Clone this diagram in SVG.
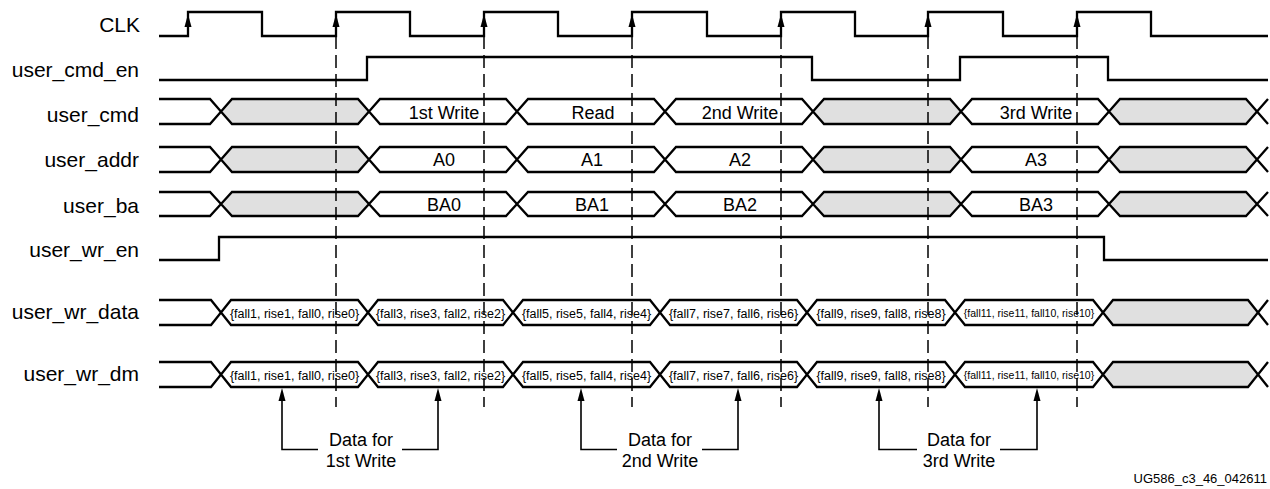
<svg xmlns="http://www.w3.org/2000/svg" xmlns:xlink="http://www.w3.org/1999/xlink" width="1270" height="489" viewBox="0 0 1270 489">
<style>
.w{fill:none;stroke:#000;stroke-width:2.3;stroke-linejoin:miter}
.g{fill:#e0e0e0;stroke:#000;stroke-width:2.3}
.o{fill:#fff;stroke:#000;stroke-width:2.3}
.lbl{font-family:"Liberation Sans",Arial,sans-serif;font-size:21px;text-anchor:end;fill:#000}
.bt{font-family:"Liberation Sans",Arial,sans-serif;font-size:18px;text-anchor:middle;fill:#000}
.dt{font-family:"Liberation Sans",Arial,sans-serif;font-size:12.5px;text-anchor:middle;fill:#000}
.ds{font-family:"Liberation Sans",Arial,sans-serif;font-size:10.5px;text-anchor:middle;fill:#000}
.dash{fill:none;stroke:#000;stroke-width:1.5;stroke-dasharray:13 6}
.ln{fill:none;stroke:#000;stroke-width:1.6}
</style>
<defs>
<path id="ah" d="M0,0 L-3.5,13 L3.5,13 Z" fill="#000"/>
</defs>
<rect width="1270" height="489" fill="#fff"/>

<g id="clk">
<text class="lbl" x="140" y="32">CLK</text>
<path class="w" d="M159,36 H188 V12 H262 V36 H336 V12 H410 V36 H484 V12 H558 V36 H632 V12 H707 V36 H781 V12 H855 V36 H928 V12 H1003 V36 H1077 V12 H1151 V36 H1268"/>
<use xlink:href="#ah" x="188" y="14"/>
<use xlink:href="#ah" x="336" y="14"/>
<use xlink:href="#ah" x="484" y="14"/>
<use xlink:href="#ah" x="632" y="14"/>
<use xlink:href="#ah" x="781" y="14"/>
<use xlink:href="#ah" x="928" y="14"/>
<use xlink:href="#ah" x="1077" y="14"/>
</g>

<g id="user_cmd_en">
<text class="lbl" x="139" y="77">user_cmd_en</text>
<path class="w" d="M159,80 H367 V57 H812 V80 H960 V57 H1108 V80 H1268"/>
</g>

<g id="user_cmd">
<text class="lbl" x="139" y="121.5">user_cmd</text>
<path class="w" d="M159,99 H210 L221,111.5 L210,124 H159"/>
<polygon class="g" points="221,111.5 232,99 358,99 369,111.5 358,124 232,124"/>
<polygon class="o" points="369,111.5 380,99 506,99 517,111.5 506,124 380,124"/>
<polygon class="o" points="517,111.5 528,99 654,99 665,111.5 654,124 528,124"/>
<polygon class="o" points="665,111.5 676,99 802,99 813,111.5 802,124 676,124"/>
<polygon class="g" points="813,111.5 824,99 950,99 961,111.5 950,124 824,124"/>
<polygon class="o" points="961,111.5 972,99 1098,99 1109,111.5 1098,124 972,124"/>
<polygon class="g" points="1109,111.5 1120,99 1246,99 1257,111.5 1246,124 1120,124"/>
<path class="w" d="M1268,99 L1257,111.5 L1268,124"/>
<text class="bt" x="444" y="118.5">1st Write</text>
<text class="bt" x="593" y="118.5">Read</text>
<text class="bt" x="740" y="118.5">2nd Write</text>
<text class="bt" x="1036" y="118.5">3rd Write</text>
</g>

<g id="user_addr">
<text class="lbl" x="139" y="167">user_addr</text>
<path class="w" d="M159,147 H210 L221,159.5 L210,172 H159"/>
<polygon class="g" points="221,159.5 232,147 358,147 369,159.5 358,172 232,172"/>
<polygon class="o" points="369,159.5 380,147 506,147 517,159.5 506,172 380,172"/>
<polygon class="o" points="517,159.5 528,147 654,147 665,159.5 654,172 528,172"/>
<polygon class="o" points="665,159.5 676,147 802,147 813,159.5 802,172 676,172"/>
<polygon class="g" points="813,159.5 824,147 950,147 961,159.5 950,172 824,172"/>
<polygon class="o" points="961,159.5 972,147 1098,147 1109,159.5 1098,172 972,172"/>
<polygon class="g" points="1109,159.5 1120,147 1246,147 1257,159.5 1246,172 1120,172"/>
<path class="w" d="M1268,147 L1257,159.5 L1268,172"/>
<text class="bt" x="444" y="166">A0</text>
<text class="bt" x="592" y="166">A1</text>
<text class="bt" x="740" y="166">A2</text>
<text class="bt" x="1036" y="166">A3</text>
</g>

<g id="user_ba">
<text class="lbl" x="139" y="212.5">user_ba</text>
<path class="w" d="M159,192 H210 L221,204 L210,216 H159"/>
<polygon class="g" points="221,204 232,192 358,192 369,204 358,216 232,216"/>
<polygon class="o" points="369,204 380,192 506,192 517,204 506,216 380,216"/>
<polygon class="o" points="517,204 528,192 654,192 665,204 654,216 528,216"/>
<polygon class="o" points="665,204 676,192 802,192 813,204 802,216 676,216"/>
<polygon class="g" points="813,204 824,192 950,192 961,204 950,216 824,216"/>
<polygon class="o" points="961,204 972,192 1098,192 1109,204 1098,216 972,216"/>
<polygon class="g" points="1109,204 1120,192 1246,192 1257,204 1246,216 1120,216"/>
<path class="w" d="M1268,192 L1257,204 L1268,216"/>
<text class="bt" x="444" y="210.5">BA0</text>
<text class="bt" x="592" y="210.5">BA1</text>
<text class="bt" x="740" y="210.5">BA2</text>
<text class="bt" x="1036" y="210.5">BA3</text>
</g>

<g id="user_wr_en">
<text class="lbl" x="139" y="257">user_wr_en</text>
<path class="w" d="M159,260 H219 V237 H1104 V260 H1268"/>
</g>

<g id="user_wr_data">
<text class="lbl" x="139" y="319">user_wr_data</text>
<path class="w" d="M159,300 H211 L221,312.5 L211,325 H159"/>
<polygon class="o" points="221,312.5 231,300 358,300 368,312.5 358,325 231,325"/>
<polygon class="o" points="368,312.5 378,300 503,300 513,312.5 503,325 378,325"/>
<polygon class="o" points="513,312.5 523,300 650,300 660,312.5 650,325 523,325"/>
<polygon class="o" points="660,312.5 670,300 797,300 807,312.5 797,325 670,325"/>
<polygon class="o" points="807,312.5 817,300 945,300 955,312.5 945,325 817,325"/>
<polygon class="o" points="955,312.5 965,300 1093,300 1103,312.5 1093,325 965,325"/>
<polygon class="g" points="1103,312.5 1113,300 1248,300 1258,312.5 1248,325 1113,325"/>
<path class="w" d="M1268,300 L1258,312.5 L1268,325"/>
<text class="dt" x="294.5" y="317.5">{fall1, rise1, fall0, rise0}</text>
<text class="dt" x="440.5" y="317.5">{fall3, rise3, fall2, rise2}</text>
<text class="dt" x="586.5" y="317.5">{fall5, rise5, fall4, rise4}</text>
<text class="dt" x="733.5" y="317.5">{fall7, rise7, fall6, rise6}</text>
<text class="dt" x="881" y="317.5">{fall9, rise9, fall8, rise8}</text>
<text class="ds" x="1029" y="316.5">{fall11, rise11, fall10, rise10}</text>
</g>

<g id="user_wr_dm">
<text class="lbl" x="139" y="381">user_wr_dm</text>
<path class="w" d="M159,362 H211 L221,374.5 L211,387 H159"/>
<polygon class="o" points="221,374.5 231,362 358,362 368,374.5 358,387 231,387"/>
<polygon class="o" points="368,374.5 378,362 503,362 513,374.5 503,387 378,387"/>
<polygon class="o" points="513,374.5 523,362 650,362 660,374.5 650,387 523,387"/>
<polygon class="o" points="660,374.5 670,362 797,362 807,374.5 797,387 670,387"/>
<polygon class="o" points="807,374.5 817,362 945,362 955,374.5 945,387 817,387"/>
<polygon class="o" points="955,374.5 965,362 1093,362 1103,374.5 1093,387 965,387"/>
<polygon class="g" points="1103,374.5 1113,362 1248,362 1258,374.5 1248,387 1113,387"/>
<path class="w" d="M1268,362 L1258,374.5 L1268,387"/>
<text class="dt" x="294.5" y="379.5">{fall1, rise1, fall0, rise0}</text>
<text class="dt" x="440.5" y="379.5">{fall3, rise3, fall2, rise2}</text>
<text class="dt" x="586.5" y="379.5">{fall5, rise5, fall4, rise4}</text>
<text class="dt" x="733.5" y="379.5">{fall7, rise7, fall6, rise6}</text>
<text class="dt" x="881" y="379.5">{fall9, rise9, fall8, rise8}</text>
<text class="ds" x="1029" y="378.5">{fall11, rise11, fall10, rise10}</text>
</g>

<g id="connectors">
<path class="dash" d="M336,36 V407 M484,36 V407 M632,36 V407 M781,36 V407 M928,36 V407 M1077,36 V407"/>
<path class="ln" d="M282,398 V449.5 H318 M402,449.5 H438 V398"/>
<use xlink:href="#ah" x="282" y="388"/>
<use xlink:href="#ah" x="438" y="388"/>
<path class="ln" d="M581,398 V449.5 H617 M702,449.5 H738 V398"/>
<use xlink:href="#ah" x="581" y="388"/>
<use xlink:href="#ah" x="738" y="388"/>
<path class="ln" d="M879,398 V449.5 H917 M1000,449.5 H1037 V398"/>
<use xlink:href="#ah" x="879" y="388"/>
<use xlink:href="#ah" x="1037" y="388"/>
</g>

<g id="notes">
<text class="bt" x="361" y="446">Data for</text>
<text class="bt" x="361" y="467">1st Write</text>
<text class="bt" x="660" y="446">Data for</text>
<text class="bt" x="660" y="467">2nd Write</text>
<text class="bt" x="959" y="446">Data for</text>
<text class="bt" x="959" y="467">3rd Write</text>
<text style="font-family:'Liberation Sans',Arial,sans-serif;font-size:13px;text-anchor:end" x="1267" y="483">UG586_c3_46_042611</text>
</g>
</svg>
